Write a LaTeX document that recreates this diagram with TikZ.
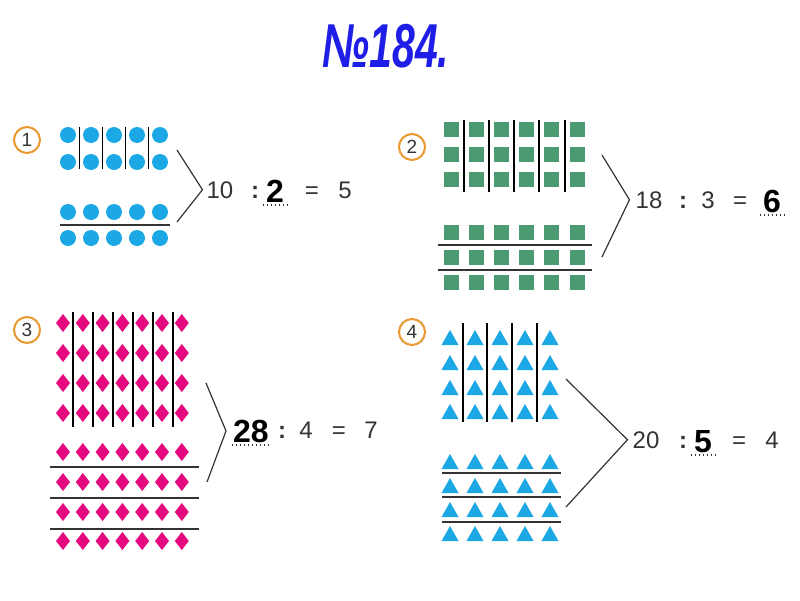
\documentclass[tikz,border=0pt]{standalone}
\usepackage{fontspec}
\setmainfont{Liberation Sans}
\usepackage{graphicx}
\usetikzlibrary{positioning}
\definecolor{dotblue}{HTML}{1CA8E4}
\definecolor{tilegreen}{HTML}{4C9A72}
\definecolor{gemred}{HTML}{E4097F}
\definecolor{ringorange}{HTML}{E8982E}
\definecolor{inkgray}{HTML}{333333}
\definecolor{titleblue}{HTML}{1E1EE6}

\tikzset{
  numring/.style={draw=ringorange, line width=2pt, circle, minimum size=26pt, inner sep=0pt, text=inkgray, font=\fontsize{19}{19}\selectfont},
  splitline/.style={line width=1.5pt, black},
  rowline/.style={line width=1.5pt, inkgray},
  braceline/.style={line width=1.2pt, inkgray},
  eqtext/.style={inner sep=0pt, anchor=base, text=inkgray, font=\fontsize{24}{24}\selectfont},
  answer/.style={inner sep=0pt, anchor=base, text=black, font=\fontsize{32}{32}\selectfont\bfseries},
  blankdots/.style={line width=1.2pt, dash pattern=on 1.2pt off 2.8pt, inkgray},
}

\begin{document}
\begin{tikzpicture}[x=1pt, y=-1pt]
    \useasboundingbox (0,0) rectangle (800,600);
    \node[text=titleblue, inner sep=0pt, font=\fontsize{62}{62}\selectfont\bfseries\itshape] (title) at (386,46) {\scalebox{0.66}[1]{№184.}};

    % 1: circles
    \node[numring] (n1) at (27,140) {1};
    \foreach \c in {0,...,4}
        \foreach \r in {135,162,212,238}
            \fill[dotblue] (68+23*\c,\r) circle (8);
    \foreach \x in {79.5,102.5,125.5,148.5}
        \draw[splitline] (\x,127) -- (\x,169);
    \draw[rowline] (60,225) -- (170,225);
    \coordinate (top1) at (177,150);
    \coordinate (bot1) at (177,222);
    \node[eqtext] (d1) at (220,198) {10};
    \node[eqtext] (c1) at (255,198) {\textbf{:}};
    \node[answer] (a1) at (275,202) {2};
    \node[eqtext] (e1) at (312,198) {=};
    \node[eqtext] (r1) at (345,198) {5};
    \draw[braceline] (top1) -- ([xshift=-4pt]d1.west) -- (bot1);
    \draw[blankdots] ([xshift=-3pt,yshift=-3pt]a1.base west) -- ([xshift=6pt,yshift=-3pt]a1.base east);

    % 2: squares
    \node[numring] (n2) at (412,147) {2};
    \foreach \c in {0,...,5}
        \foreach \r in {129,154,179,232,257,282}
            \fill[tilegreen] (451+25.2*\c-7.5,\r-7.5) rectangle ++(15,15);
    \foreach \x in {464,489,514,539,565}
        \draw[splitline] (\x,120) -- (\x,192);
    \foreach \y in {245,270}
        \draw[rowline] (438,\y) -- (592,\y);
    \coordinate (top2) at (602,155);
    \coordinate (bot2) at (602,257);
    \node[eqtext] (d2) at (649,208) {18};
    \node[eqtext] (c2) at (683,208) {\textbf{:}};
    \node[eqtext] (e2) at (708,208) {3};
    \node[eqtext] (q2) at (740,208) {=};
    \node[answer] (a2) at (772,212) {6};
    \draw[braceline] (top2) -- ([xshift=-6pt]d2.west) -- (bot2);
    \draw[blankdots] ([xshift=-3pt,yshift=-3pt]a2.base west) -- ([xshift=3pt,yshift=-3pt]a2.base east);

    % 3: diamonds
    \node[numring] (n3) at (27,330) {3};
    \foreach \c in {0,...,6}
        \foreach \r in {323,353,383,413,452,482,512,541}
            \fill[gemred] (63+19.8*\c,\r-9) -- ++(7,9) -- ++(-7,9) -- ++(-7,-9) -- cycle;
    \foreach \x in {73,93,113,133,153,173}
        \draw[splitline] (\x,312) -- (\x,427);
    \foreach \y in {467,498,529}
        \draw[rowline] (50,\y) -- (199,\y);
    \coordinate (top3) at (206,383);
    \coordinate (bot3) at (207,482);
    \node[answer] (a3) at (251,442) {28};
    \node[eqtext] (c3) at (282,438) {\textbf{:}};
    \node[eqtext] (e3) at (306,438) {4};
    \node[eqtext] (q3) at (339,438) {=};
    \node[eqtext] (r3) at (371,438) {7};
    \draw[braceline] (top3) -- ([xshift=-7pt]a3.west) -- (bot3);
    \draw[blankdots] ([xshift=-1pt,yshift=-3pt]a3.base west) -- ([xshift=1pt,yshift=-3pt]a3.base east);

    % 4: triangles
    \node[numring] (n4) at (412,332) {4};
    \foreach \c in {0,...,4}
        \foreach \r in {338,363,388,412,462,486,510,534}
            \fill[dotblue] (450+25*\c-8.5,\r+7) -- ++(17,0) -- ++(-8.5,-15) -- cycle;
    \foreach \x in {463,487,512,537}
        \draw[splitline] (\x,323) -- (\x,422);
    \foreach \y in {473,497,522}
        \draw[rowline] (442,\y) -- (561,\y);
    \coordinate (top4) at (566,379);
    \coordinate (bot4) at (566,507);
    \node[eqtext] (d4) at (646,448) {20};
    \node[eqtext] (c4) at (683,448) {\textbf{:}};
    \node[answer] (a4) at (703,452) {5};
    \node[eqtext] (q4) at (739,448) {=};
    \node[eqtext] (r4) at (772,448) {4};
    \draw[braceline] (top4) -- ([xshift=-5pt]d4.west) -- (bot4);
    \draw[blankdots] ([xshift=-3pt,yshift=-3pt]a4.base west) -- ([xshift=6pt,yshift=-3pt]a4.base east);
\end{tikzpicture}
\end{document}
